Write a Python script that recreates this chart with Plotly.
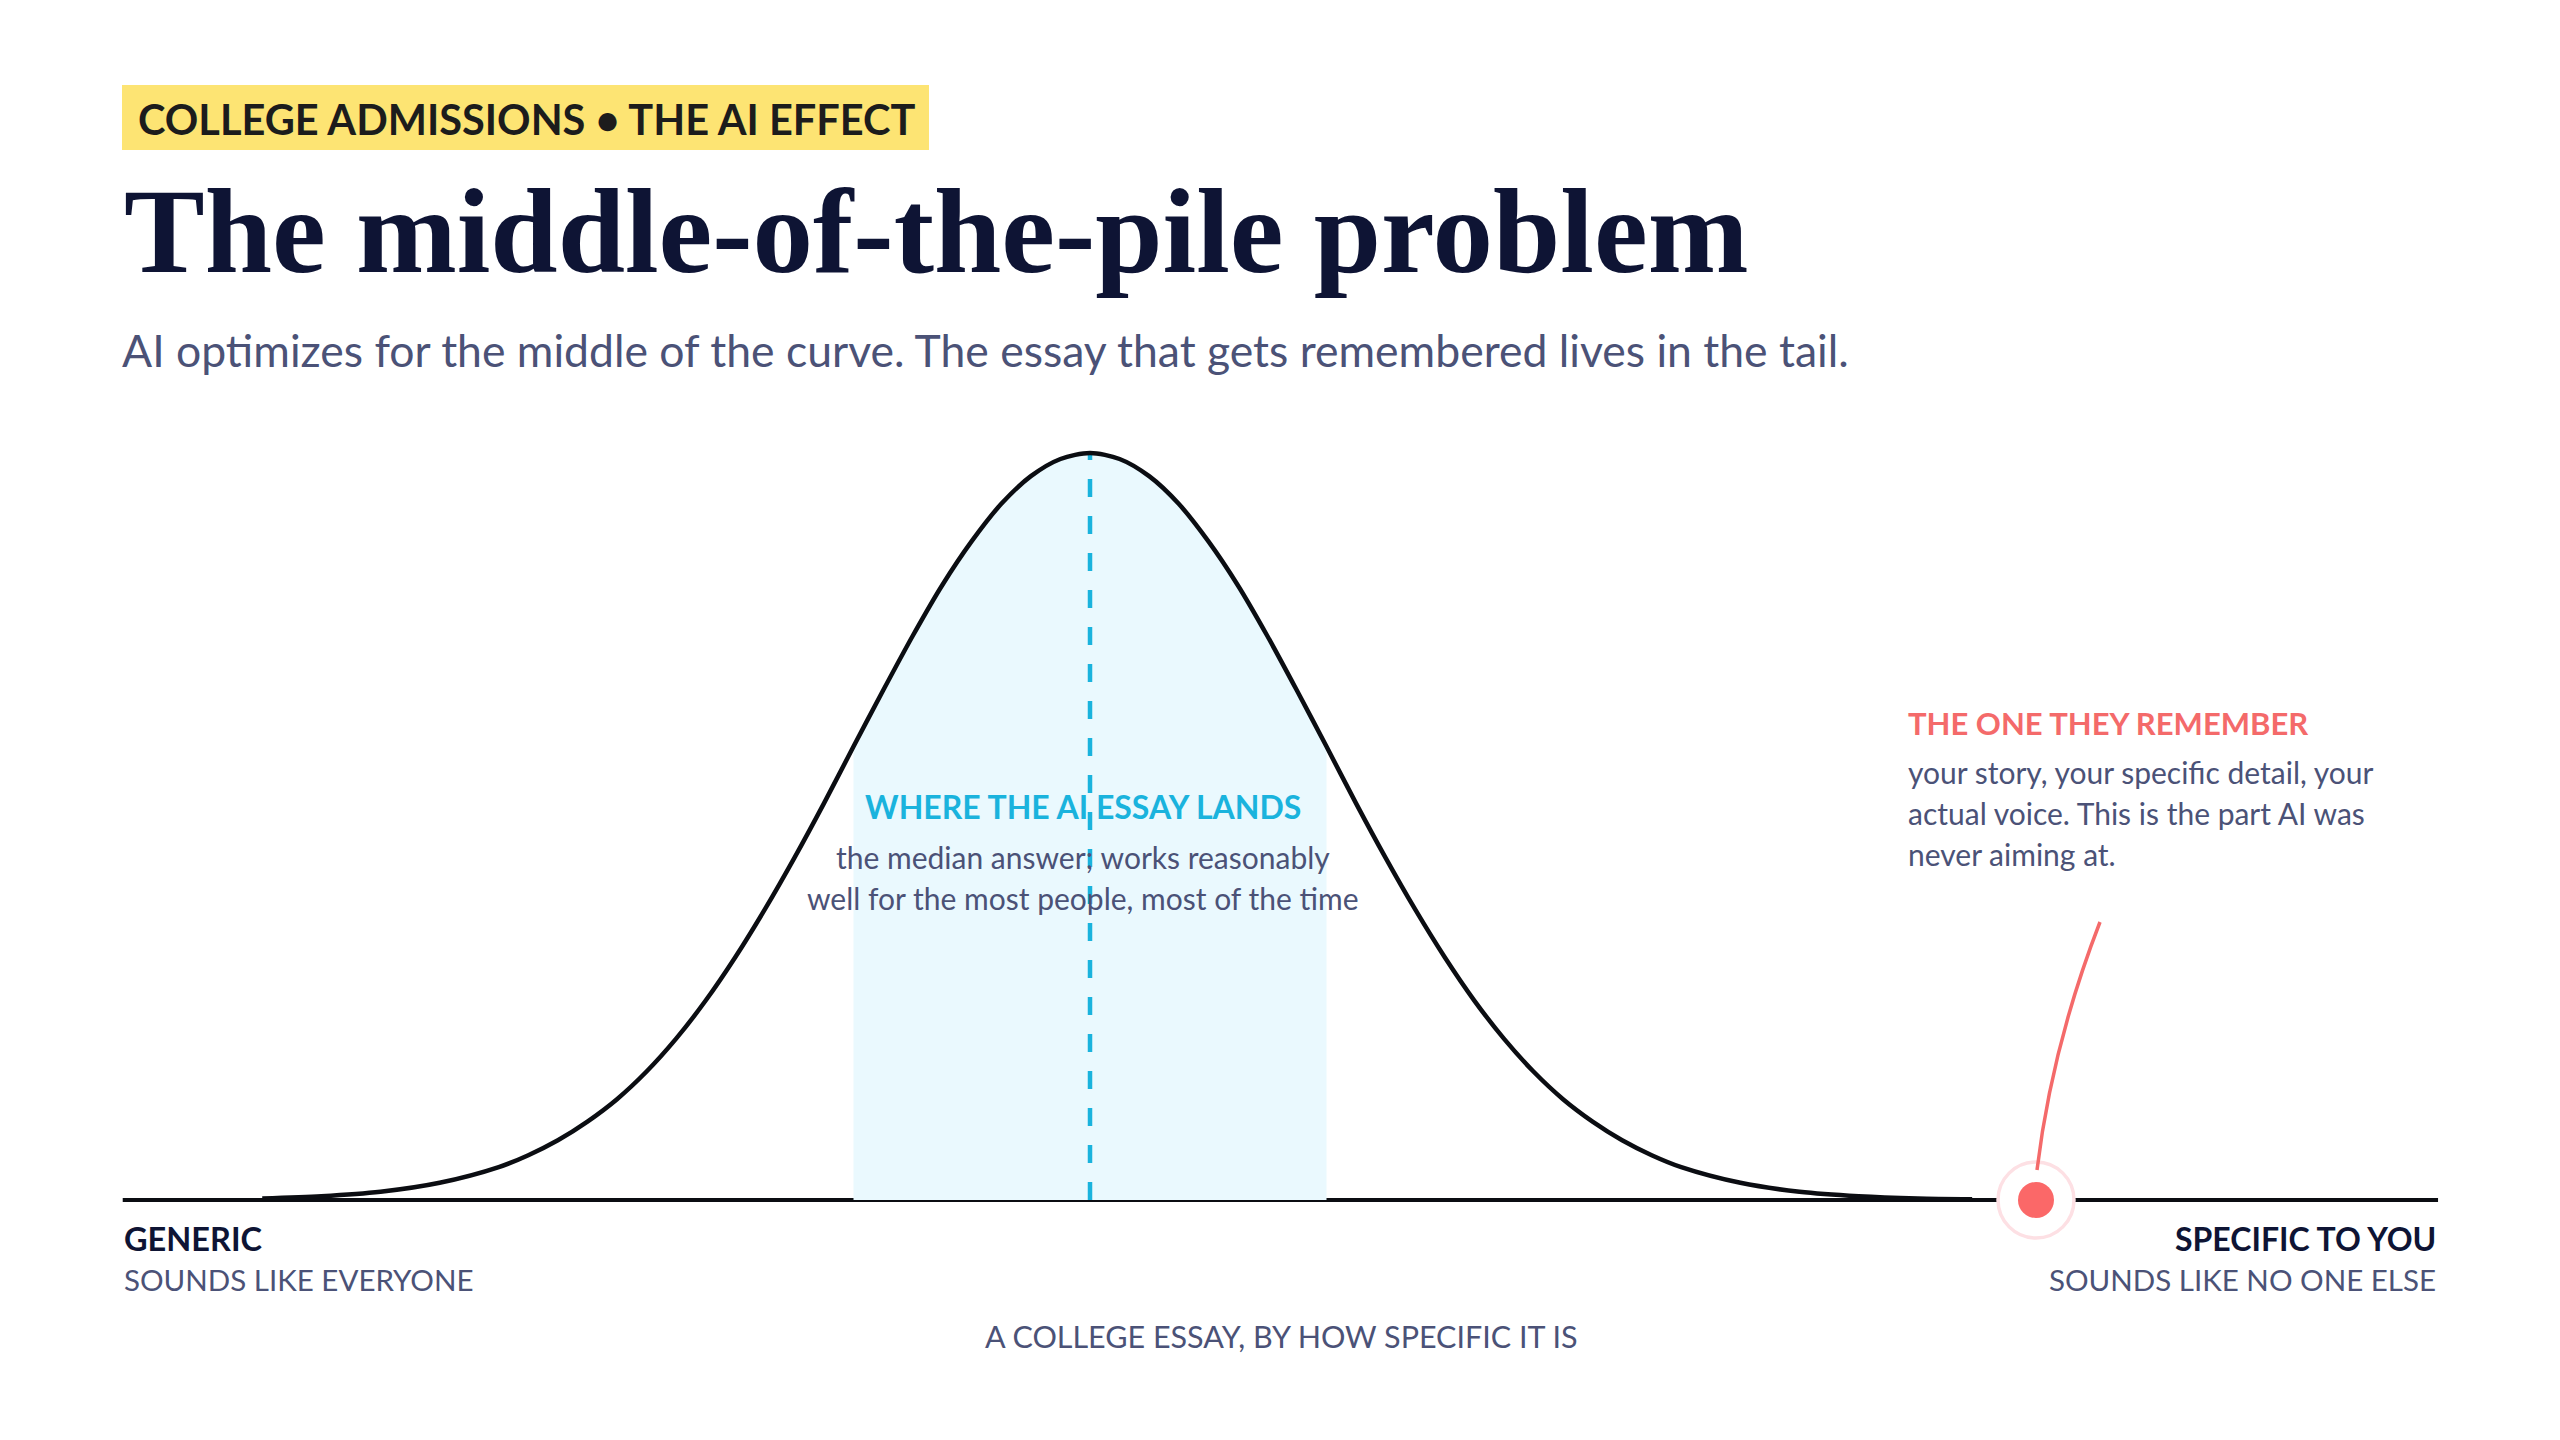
import plotly.graph_objects as go

# ---------------- data ----------------
# bell curve: position in "specificity" units (sigma units), height relative to peak
curve_x = [-3.73, -3.5, -3.25, -3.0, -2.75, -2.5, -2.375, -2.25, -2.125, -2.0, -1.875, -1.75,
           -1.625, -1.5, -1.375, -1.25, -1.125, -1.0, -0.875, -0.75, -0.625, -0.5, -0.375,
           -0.25, -0.125, 0.0, 0.125, 0.25, 0.375, 0.5, 0.625, 0.75, 0.875, 1.0, 1.125, 1.25,
           1.375, 1.5, 1.625, 1.75, 1.875, 2.0, 2.125, 2.25, 2.375, 2.5, 2.75, 3.0, 3.25,
           3.5, 3.73]
curve_y = [0.001, 0.002, 0.005, 0.011, 0.023, 0.044, 0.060, 0.080, 0.105, 0.135, 0.172, 0.216,
           0.267, 0.325, 0.389, 0.458, 0.531, 0.607, 0.682, 0.755, 0.823, 0.882, 0.932,
           0.969, 0.992, 1.000, 0.992, 0.969, 0.932, 0.882, 0.823, 0.755, 0.682, 0.607, 0.531, 0.458,
           0.389, 0.325, 0.267, 0.216, 0.172, 0.135, 0.105, 0.080, 0.060, 0.044, 0.023, 0.011, 0.005,
           0.002, 0.001]
curve_start = -3.5                # left tail of the drawn curve
band_range = [-1.0, 1.0]          # where the AI essay lands
median_x = 0.0
remember_x = 4.0                  # the one they remember
axis_extent = [-4.09, 5.70]

tag_text = "COLLEGE ADMISSIONS • THE AI EFFECT"
title_text = "The middle-of-the-pile problem"
subtitle_text = "AI optimizes for the middle of the curve. The essay that gets remembered lives in the tail."
band_title = "WHERE THE AI ESSAY LANDS"
band_lines = ["the median answer; works reasonably", "well for the most people, most of the time"]
tail_title = "THE ONE THEY REMEMBER"
tail_lines = ["your story, your specific detail, your", "actual voice. This is the part AI was", "never aiming at."]
left_label = ["GENERIC", "SOUNDS LIKE EVERYONE"]
right_label = ["SPECIFIC TO YOU", "SOUNDS LIKE NO ONE ELSE"]
axis_title = "A COLLEGE ESSAY, BY HOW SPECIFIC IT IS"

# ---------------- styling ----------------
W, H = 2560, 1440
CX, SIG, BASE, PEAK = 1090, 236.5, 1200, 747   # pixel mapping of data space
NAVY = "#0e1434"
SLATE = "#4b5277"
CYAN = "#1ab3dd"
CORAL = "#f46a6a"
SANS = "Lato"
SERIF = "Liberation Serif"

def dx(px):
    return (px - CX) / SIG

def dy(py):
    return (BASE - py) / PEAK

def px(x):
    return x / W

def py(y):
    return 1 - y / H

line_x = [x for x in curve_x if x >= curve_start]
line_y = [y for x, y in zip(curve_x, curve_y) if x >= curve_start]
band_x = [x for x in curve_x if band_range[0] <= x <= band_range[1]]
band_y = [y for x, y in zip(curve_x, curve_y) if band_range[0] <= x <= band_range[1]]
peak_y = max(curve_y)

fig = go.Figure()

# shaded band under the curve
fig.add_trace(go.Scatter(x=band_x, y=band_y, mode="lines", line=dict(width=0, shape="spline"),
                         fill="tozeroy", fillcolor="#eaf9fe", hoverinfo="skip"))
# median dashed line
fig.add_trace(go.Scatter(x=[median_x, median_x], y=[0, peak_y], mode="lines",
                         line=dict(color=CYAN, width=4.5, dash="18px,19px"), hoverinfo="skip"))
# the curve
fig.add_trace(go.Scatter(x=line_x, y=line_y, mode="lines",
                         line=dict(color="#0b0d12", width=4.5, shape="spline", smoothing=0.8),
                         hoverinfo="skip"))
# halo + dot
fig.add_trace(go.Scatter(x=[remember_x], y=[0], mode="markers",
                         marker=dict(size=76, color="white", line=dict(color="#fde0e4", width=3.5)),
                         hoverinfo="skip"))
fig.add_trace(go.Scatter(x=[remember_x], y=[0], mode="markers",
                         marker=dict(size=36, color="#fb6868", line=dict(width=0)), hoverinfo="skip"))

shapes = []
# baseline axis
shapes.append(dict(type="line", xref="x", yref="y", x0=axis_extent[0], x1=axis_extent[1], y0=0, y1=0,
                   line=dict(color="#0b0d12", width=4), layer="below"))
# tag background
shapes.append(dict(type="rect", xref="paper", yref="paper", x0=px(122), x1=px(929), y0=py(150), y1=py(85),
                   fillcolor="#fde473", line=dict(width=0), layer="below"))
# leader line (curved)
p0 = (dx(2100), dy(922))
c = (dx(2052), dy(1046))
p2 = (dx(2037), dy(1170))
shapes.append(dict(type="path", xref="x", yref="y",
                   path=f"M {p0[0]},{p0[1]} Q {c[0]},{c[1]} {p2[0]},{p2[1]}",
                   line=dict(color=CORAL, width=3.5)))

ann = []

def text(t, x, y, size, color, anchor="left", weight=400, family=SANS):
    ann.append(dict(text=t, x=px(x), y=py(y), xref="paper", yref="paper", showarrow=False,
                    xanchor=anchor, yanchor="middle",
                    font=dict(family=family, size=size, color=color, weight=weight)))

text(tag_text, 136, 119, 41.5, "#1c1c1c", weight=700)
text(title_text, 122, 231, 121, NAVY, weight=700, family=SERIF)
text(subtitle_text, 120, 349, 44.5, SLATE)

text(band_title, 1083, 806, 32, CYAN, anchor="center", weight=700)
text(band_lines[0], 1083, 857, 30, SLATE, anchor="center")
text(band_lines[1], 1083, 898, 30, SLATE, anchor="center")

text(tail_title, 1906, 723, 31, CORAL, weight=700)
for i, t in enumerate(tail_lines):
    text(t, 1906, 772 + 41 * i, 30, SLATE)

text(left_label[0], 122, 1238, 32.5, NAVY, weight=700)
text(left_label[1], 122, 1279, 29.5, SLATE)
text(right_label[0], 2438, 1238, 32, NAVY, anchor="right", weight=700)
text(right_label[1], 2438, 1279, 29.5, SLATE, anchor="right")
text(axis_title, 1281, 1336, 30.5, SLATE, anchor="center")

fig.update_layout(
    width=W, height=H, margin=dict(l=0, r=0, t=0, b=0),
    paper_bgcolor="white", plot_bgcolor="white", showlegend=False,
    xaxis=dict(range=[dx(0), dx(W)], visible=False, fixedrange=True),
    yaxis=dict(range=[dy(H), dy(0)], visible=False, fixedrange=True),
    shapes=shapes, annotations=ann,
)

fig.write_html("out.html", config={"displayModeBar": False},
               post_script="document.body.style.margin='0';document.body.style.overflow='hidden';")
